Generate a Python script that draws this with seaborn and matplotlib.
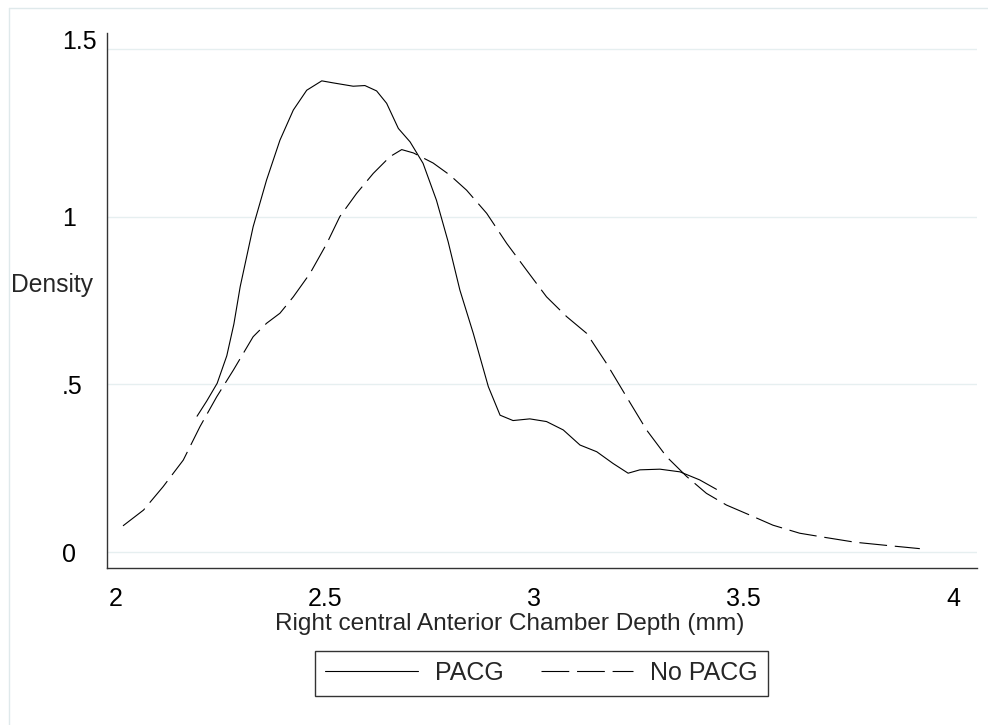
import pandas as pd
import matplotlib
matplotlib.use("Agg")
import matplotlib.pyplot as plt
from matplotlib.lines import Line2D
from matplotlib.transforms import ScaledTranslation
import seaborn as sns

# kernel density curves
pacg_x = [2.177, 2.200, 2.225, 2.248, 2.265, 2.280, 2.311, 2.343, 2.375, 2.407,
          2.439, 2.475, 2.502, 2.550, 2.578, 2.606, 2.630, 2.658, 2.686, 2.717,
          2.749, 2.777, 2.805, 2.837, 2.873, 2.901, 2.932, 2.972, 3.012, 3.052,
          3.092, 3.132, 3.171, 3.207, 3.235, 3.283, 3.331, 3.378, 3.418]
pacg_y = [0.405, 0.450, 0.503, 0.585, 0.680, 0.791, 0.970, 1.109, 1.228, 1.318,
          1.377, 1.405, 1.399, 1.389, 1.391, 1.375, 1.338, 1.263, 1.223, 1.159,
          1.049, 0.925, 0.781, 0.652, 0.493, 0.408, 0.392, 0.397, 0.389, 0.364,
          0.319, 0.299, 0.264, 0.235, 0.245, 0.247, 0.239, 0.215, 0.187]

nopacg_x = [2.000, 2.049, 2.096, 2.144, 2.184, 2.224, 2.264, 2.311, 2.343, 2.375,
            2.407, 2.447, 2.487, 2.518, 2.558, 2.598, 2.638, 2.666, 2.694, 2.741,
            2.781, 2.821, 2.869, 2.917, 2.964, 3.012, 3.060, 3.108, 3.155, 3.203,
            3.251, 3.299, 3.347, 3.394, 3.442, 3.498, 3.553, 3.617, 3.680, 3.750,
            3.830, 3.904]
nopacg_y = [0.078, 0.125, 0.195, 0.274, 0.374, 0.463, 0.543, 0.642, 0.682, 0.712,
            0.761, 0.831, 0.920, 1.000, 1.069, 1.129, 1.179, 1.200, 1.190, 1.160,
            1.124, 1.079, 1.010, 0.920, 0.841, 0.761, 0.702, 0.652, 0.563, 0.463,
            0.364, 0.284, 0.225, 0.175, 0.140, 0.110, 0.080, 0.056, 0.043, 0.029,
            0.019, 0.010]

groups = ["PACG", "No PACG"]
x_ticks = [2, 2.5, 3, 3.5, 4]
x_tick_labels = ["2", "2.5", "3", "3.5", "4"]
y_ticks = [0, 0.5, 1, 1.5]
y_tick_labels = ["0", ".5", "1", "1.5"]

df = pd.concat([
    pd.DataFrame({"acd": pacg_x, "density": pacg_y, "group": groups[0]}),
    pd.DataFrame({"acd": nopacg_x, "density": nopacg_y, "group": groups[1]}),
], ignore_index=True)

sns.set_style("white")
plt.rcParams["font.family"] = ["Liberation Sans", "DejaVu Sans"]

W, H = 988, 725
fig = plt.figure(figsize=(W / 100, H / 100), dpi=100)
ax = fig.add_axes([107 / W, 1 - 568 / H, 870 / W, 535 / H])

dash = (25, 7)
lw = 0.8
sns.lineplot(data=df, x="acd", y="density", style="group", style_order=groups,
             dashes={"PACG": "", "No PACG": dash}, color="black", lw=lw,
             sort=False, estimator=None, legend=False, ax=ax)

ax.set_xlim(1.9618, 4.0406)
ax.set_ylim(-0.0477, 1.5477)
ax.set_xticks(x_ticks, x_tick_labels)
ax.set_yticks(y_ticks, y_tick_labels)
ax.set_xlabel("")
ax.set_ylabel("")

ax.spines[["top", "right"]].set_visible(False)
for s in ["left", "bottom"]:
    ax.spines[s].set_color("#333333")
    ax.spines[s].set_linewidth(1)
ax.tick_params(axis="both", direction="out", length=7.2, width=1,
               color="#333333", labelsize=18, labelcolor="black")
ax.tick_params(axis="x", pad=6.3)
ax.tick_params(axis="y", pad=25.2)
ax.yaxis.grid(True, color="#e6eff0", lw=1)
ax.xaxis.grid(False)
ax.set_axisbelow(True)

shift = ScaledTranslation(-7 / 100, 0, fig.dpi_scale_trans)
for lab in ax.get_xticklabels():
    lab.set_transform(lab.get_transform() + shift)
ylabs = ax.get_yticklabels()
for lab in ylabs:
    lab.set_horizontalalignment("left")
ylabs[-1].set_verticalalignment("baseline")

fig.text(509.5 / W, 1 - 630 / H, "Right central Anterior Chamber Depth (mm)",
         ha="center", va="baseline", fontsize=17.6)
fig.text(11 / W, 1 - 292 / H, "Density", ha="left", va="baseline", fontsize=17.7)

handles = [Line2D([], [], color="black", lw=lw),
           Line2D([], [], color="black", lw=lw, dashes=dash)]
leg = fig.legend(handles, groups, loc="center", ncol=2,
                 bbox_to_anchor=(541.5 / W, 1 - 673 / H), fontsize=18,
                 handlelength=3.7, handletextpad=0.68, columnspacing=1.5,
                 borderpad=0.42, frameon=True, fancybox=False, framealpha=1)
leg.get_frame().set_edgecolor("#333333")
leg.get_frame().set_linewidth(1)

# outer graph region border
fig.add_artist(Line2D([9 / W, 1], [1 - 8 / H, 1 - 8 / H], transform=fig.transFigure,
                      color="#dfe9eb", lw=1))
fig.add_artist(Line2D([9 / W, 9 / W], [0, 1 - 8 / H], transform=fig.transFigure,
                      color="#dfe9eb", lw=1))

fig.savefig("out.png", dpi=100)
